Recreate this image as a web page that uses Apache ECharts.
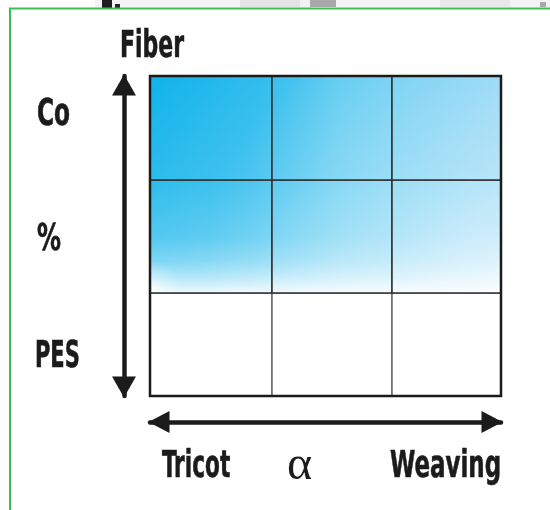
<!DOCTYPE html>
<html>
<head>
<meta charset="utf-8">
<script src="https://cdn.jsdelivr.net/npm/echarts@6/dist/echarts.min.js"></script>
<style>html,body{margin:0;padding:0;background:#fff}#c{width:550px;height:510px}</style>
</head>
<body>
<div id="c"></div>
<script>
// ---- data ----
const xEdges = [0, 122, 242, 351];      // column boundaries (relative units)
const yEdges = [0, 103, 216, 320];      // row boundaries, bottom to top
const shadedRows = [0, 1, 1];           // bottom, middle, top row shaded?
const yLabels = ['PES', '%', 'Co'];     // bottom to top
const xLabels = ['Tricot', 'α', 'Weaving'];
const yTitle = 'Fiber';

const cells = [];
for (let r = 0; r < 3; r++) {
  for (let c = 0; c < 3; c++) {
    cells.push([xEdges[c], xEdges[c + 1], yEdges[r], yEdges[r + 1], shadedRows[r], r, c]);
  }
}

const chart = echarts.init(document.getElementById('c'), null, {renderer: 'canvas'});
const xMax = xEdges[xEdges.length - 1];
const yMax = yEdges[yEdges.length - 1];
let shadeBottom = yMax;
for (let r = 0; r < shadedRows.length; r++) { if (shadedRows[r]) { shadeBottom = yEdges[r]; break; } }

const boldFont = 'bold 37px "Liberation Sans Narrow", "DejaVu Sans Condensed", sans-serif';
function label(text, x, y, sx) {
  return {type: 'text', x: x, y: y, scaleX: sx, scaleY: 1,
    style: {text: text, x: 0, y: 0, font: boldFont, fill: '#1b1b1b', stroke: '#1b1b1b', lineWidth: 0.6,
      align: 'left', verticalAlign: 'middle'}, z: 10};
}

const W = a => 'rgba(255,255,255,' + a + ')';

const option = {
  animation: false,
  backgroundColor: '#ffffff',
  grid: {left: 150, top: 76, width: 351, height: 320, show: false},
  xAxis: {type: 'value', min: 0, max: xMax, offset: 26,
    axisLine: {show: true, onZero: false, symbol: ['triangle', 'triangle'], symbolSize: [22, 21], symbolOffset: [9, -9],
      lineStyle: {color: '#1b1b1b', width: 4.5}},
    axisTick: {show: false}, axisLabel: {show: false}, splitLine: {show: false}},
  yAxis: {type: 'value', min: 0, max: yMax, offset: 26,
    axisLine: {show: true, onZero: false, symbol: ['triangle', 'triangle'], symbolSize: [24, 21], symbolOffset: [9, -9],
      lineStyle: {color: '#1b1b1b', width: 4.5}},
    axisTick: {show: false}, axisLabel: {show: false}, splitLine: {show: false}},
  series: [{
    type: 'custom',
    data: cells,
    renderItem: function (params, api) {
      const tl = api.coord([api.value(0), api.value(3)]);
      const br = api.coord([api.value(1), api.value(2)]);
      const shade = api.value(4);
      const row = api.value(5);
      const g0 = api.coord([0, yMax]);
      const g1 = api.coord([xMax, shadeBottom]);
      const shape = {x: tl[0], y: tl[1], width: br[0] - tl[0], height: br[1] - tl[1]};
      const children = [];
      if (shade) {
        children.push({type: 'rect', shape: shape, style: {
          fill: new echarts.graphic.LinearGradient(g0[0], 0, g1[0], 0, [
            {offset: 0, color: '#0fb3ea'}, {offset: 0.3, color: '#2fbced'}, {offset: 0.55, color: '#62ccf1'},
            {offset: 1, color: '#92d7f5'}], true)}});
        children.push({type: 'rect', shape: shape, style: {
          fill: new echarts.graphic.RadialGradient(g1[0], g1[1], 300, [
            {offset: 0, color: W(0.5)}, {offset: 0.4, color: W(0.25)}, {offset: 1, color: W(0)}], true)}});
        children.push({type: 'rect', shape: shape, style: {
          fill: new echarts.graphic.LinearGradient(0, g0[1], 0, g1[1], [
            {offset: 0, color: W(0)}, {offset: 0.48, color: W(0.12)}, {offset: 0.74, color: W(0.28)},
            {offset: 0.85, color: W(0.45)}, {offset: 0.93, color: W(0.68)}, {offset: 1, color: W(0.92)}], true)}});
        children.push({type: 'rect', shape: shape, style: {
          fill: new echarts.graphic.RadialGradient(g0[0], g1[1], 32, [
            {offset: 0, color: W(0.85)}, {offset: 0.5, color: W(0.35)}, {offset: 1, color: W(0)}], true)}});
      } else {
        children.push({type: 'rect', shape: shape, style: {fill: '#ffffff'}});
      }
      children.push({type: 'rect', shape: shape, style: {fill: null, stroke: row === 0 ? '#6a6a6a' : '#303030', lineWidth: 1.5}});
      return {type: 'group', children: children};
    },
    z: 2
  }],
  graphic: [
    // scan noise strip at the top
    {type: 'rect', shape: {x: 95, y: 0, width: 455, height: 7}, style: {fill: '#f3f3f3'}, z: 0},
    {type: 'rect', shape: {x: 102, y: 0, width: 10, height: 8}, style: {fill: '#1e1e1e'}, z: 1},
    {type: 'rect', shape: {x: 115, y: 4, width: 5, height: 4}, style: {fill: '#2a2a2a'}, z: 1},
    {type: 'rect', shape: {x: 310, y: 0, width: 26, height: 7}, style: {fill: '#a8a8a8'}, z: 1},
    {type: 'rect', shape: {x: 240, y: 0, width: 60, height: 7}, style: {fill: '#e4e4e4'}, z: 1},
    {type: 'rect', shape: {x: 440, y: 0, width: 70, height: 7}, style: {fill: '#e8e8e8'}, z: 1},
    {type: 'rect', shape: {x: 540, y: 2, width: 6, height: 5}, style: {fill: '#a8a8a8'}, z: 1},
    // green frame
    {type: 'rect', shape: {x: 10, y: 8.5, width: 560, height: 520}, style: {fill: null, stroke: '#3dbb55', lineWidth: 2}, z: 1},
    // grid outer border
    {type: 'rect', shape: {x: 150, y: 76, width: 351, height: 320}, style: {fill: null, stroke: '#1b1b1b', lineWidth: 2.5}, z: 20},
    label(yTitle, 120, 47, 0.66),
    label(yLabels[2], 37, 115, 0.7),
    label(yLabels[1], 37, 240, 0.72),
    label(yLabels[0], 35, 357, 0.63),
    label(xLabels[0], 162, 467, 0.65),
    {type: 'text', x: 287, y: 466, style: {text: xLabels[1], x: 0, y: 0, font: '48px "Liberation Serif", serif', fill: '#1b1b1b', align: 'left', verticalAlign: 'middle'}, z: 10},
    label(xLabels[2], 390, 467, 0.69)
  ]
};
chart.setOption(option);
</script>
</body>
</html>
